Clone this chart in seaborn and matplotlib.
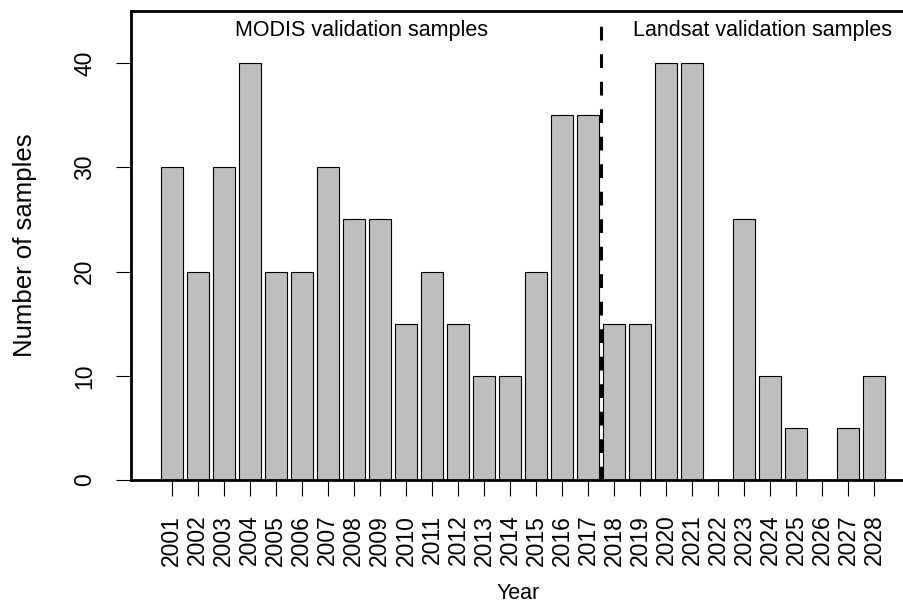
import numpy as np
import pandas as pd
import matplotlib
matplotlib.use("Agg")
import matplotlib.pyplot as plt
import seaborn as sns

# data
years = [str(y) for y in range(2001, 2029)]
samples = [30, 20, 30, 40, 20, 20, 30, 25, 25, 15, 20, 15, 10, 10,
           20, 35, 35, 15, 15, 40, 40, 0, 25, 10, 5, 0, 5, 10]
y_ticks = [0, 10, 20, 30, 40]

df = pd.DataFrame({"Year": years, "Samples": samples})

sns.set_style("white")
plt.rcParams["font.family"] = ["Liberation Sans", "DejaVu Sans"]
plt.rcParams["text.color"] = "black"
plt.rcParams["axes.labelcolor"] = "black"

fig = plt.figure(figsize=(9.04, 6.03), dpi=100)
ax = fig.add_axes([131 / 904, 1 - 480 / 603, 775 / 904, 469 / 603])

sns.barplot(data=df, x="Year", y="Samples", order=years, color="#BEBEBE",
            edgecolor="black", linewidth=0.8, width=0.833, saturation=1, ax=ax)

# split between the two sample sources
ax.vlines(16.5, 0, 43.6, colors="black", linestyles=(0, (4.5, 4.5)), linewidth=2.2)
ax.text(7.31, 43.1, "MODIS validation samples", ha="center", va="center", fontsize=15.5)
ax.text(22.72, 43.1, "Landsat validation samples", ha="center", va="center", fontsize=15.5)

ax.set_xlim(-1.564, 28.22)
ax.set_ylim(0, 45)
ax.set_yticks(y_ticks)
ax.set_yticklabels([str(v) for v in y_ticks], rotation=90, va="center")

for s in ax.spines.values():
    s.set_linewidth(2.0)
    s.set_color("black")

ax.tick_params(axis="x", length=11.5, width=0.8, pad=13.5, labelrotation=90,
               labelsize=16.5, colors="black", bottom=True)
ax.tick_params(axis="y", length=11, width=0.8, pad=14, labelsize=16.5,
               colors="black", left=True)

ax.set_xlabel("Year", fontsize=15.5)
ax.set_ylabel("Number of samples", fontsize=18.5)
ax.xaxis.set_label_coords(0.5, -0.2196)
ax.yaxis.set_label_coords(-0.121, 0.5)

fig.savefig("out.png", dpi=100)
